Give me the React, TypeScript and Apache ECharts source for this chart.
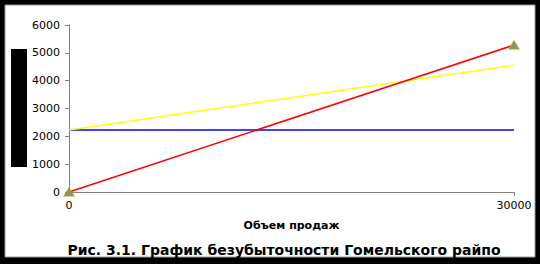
import React, { useEffect, useRef } from "react";
import * as echarts from "echarts";

const salesVolume = [0, 30000];
const fixedCosts = [2230, 2230];
const totalCosts = [2230, 4560];
const revenue = [0, 5280];
const xTicks = [0, 30000];
const xAxisName = "Объем продаж";
const chartTitle = "Рис. 3.1. График безубыточности Гомельского райпо";

export default function App() {
  const ref = useRef<HTMLDivElement>(null);
  useEffect(() => {
    document.body.style.margin = "0";
    const chart = echarts.init(ref.current!, null, { renderer: "svg" });
    const pairs = (ys: number[]) => salesVolume.map((x, i) => [x, ys[i]]);
    chart.setOption({
      animation: false,
      backgroundColor: "#000",
      textStyle: { fontFamily: "DejaVu Sans" },
      graphic: [
        {
          type: "rect",
          z: -10,
          shape: { x: 5, y: 5, width: 530, height: 252 },
          style: { fill: "#fff", stroke: "#999", lineWidth: 1 },
        },
        {
          type: "rect",
          z: 10,
          shape: { x: 11, y: 49, width: 16, height: 118 },
          style: { fill: "#000" },
        },
        {
          type: "text",
          z: 10,
          x: 284,
          y: 250,
          style: {
            text: chartTitle,
            fill: "#000",
            font: "bold 14px 'DejaVu Sans'",
            align: "center",
            verticalAlign: "middle",
          },
        },
      ],
      grid: { left: 69, right: 26, top: 25, bottom: 72, containLabel: false },
      xAxis: {
        type: "value",
        min: xTicks[0],
        max: xTicks[1],
        interval: xTicks[1] - xTicks[0],
        name: xAxisName,
        nameLocation: "middle",
        nameGap: 28,
        nameTextStyle: { color: "#000", fontSize: 11, fontWeight: "bold", fontFamily: "DejaVu Sans" },
        axisLine: { lineStyle: { color: "#808080", width: 1 } },
        axisTick: { show: true, length: 4, lineStyle: { color: "#808080" } },
        axisLabel: { color: "#000", fontSize: 11, margin: 8, fontFamily: "DejaVu Sans", formatter: (v: number) => String(v) },
        splitLine: { show: false },
      },
      yAxis: {
        type: "value",
        min: 0,
        max: 6000,
        interval: 1000,
        axisLine: { show: true, lineStyle: { color: "#808080", width: 1 } },
        axisTick: { show: true, length: 4, lineStyle: { color: "#808080" } },
        axisLabel: { color: "#000", fontSize: 11, margin: 9, fontFamily: "DejaVu Sans", formatter: (v: number) => String(v) },
        splitLine: { show: false },
      },
      series: [
        {
          type: "line",
          data: pairs(fixedCosts),
          showSymbol: false,
          lineStyle: { color: "#0000ff", width: 1.5 },
          z: 2,
        },
        {
          type: "line",
          data: pairs(totalCosts),
          showSymbol: false,
          lineStyle: { color: "#ffff00", width: 1.5 },
          z: 3,
        },
        {
          type: "line",
          data: pairs(revenue),
          symbol: "triangle",
          symbolSize: [10, 8],
          showSymbol: true,
          lineStyle: { color: "#ff0000", width: 1.5 },
          itemStyle: { color: "#8c8c8c", borderColor: "#a8a800", borderWidth: 1 },
          z: 4,
        },
      ],
    });
    return () => chart.dispose();
  }, []);
  return <div ref={ref} style={{ width: 540, height: 264 }} />;
}
